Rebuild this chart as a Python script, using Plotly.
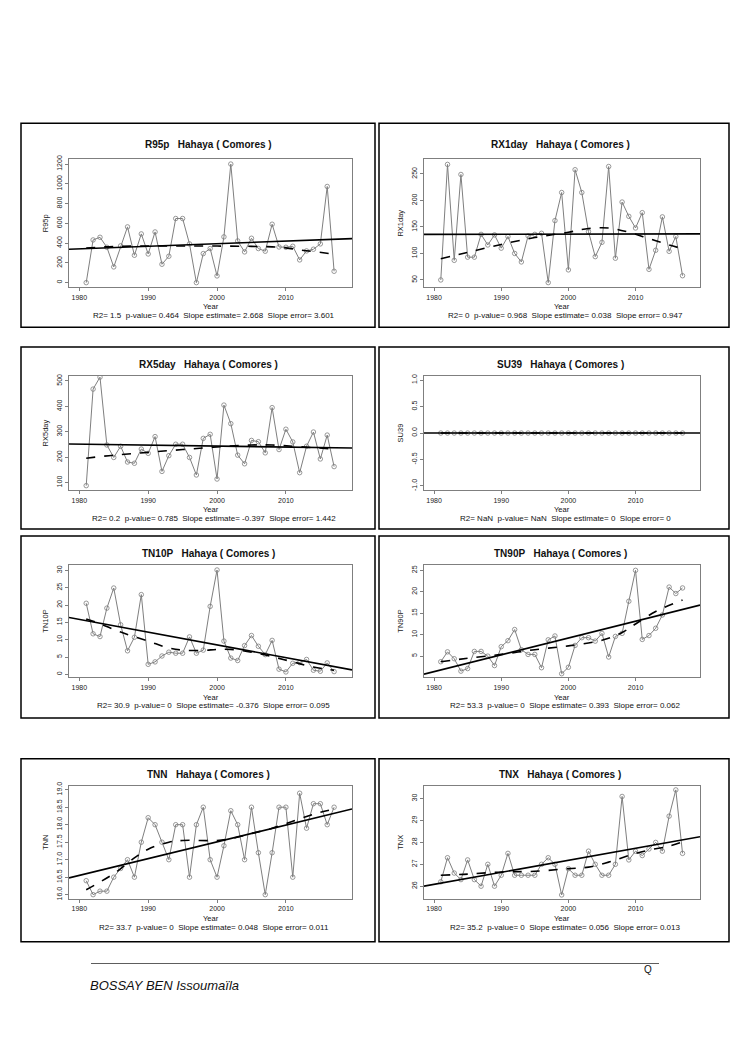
import plotly.graph_objects as go

W, H = 745, 1053

years = list(range(1981, 2018))
edge_years = [1978.5, 2019.6]

# ---- data ----
r95p = [0, 432, 459, 358, 159, 372, 564, 277, 493, 290, 513, 186, 267, 649, 649, 392, 0, 294, 345, 68,
        463, 1200, 422, 311, 449, 345, 318, 591, 361, 358, 368, 230, 321, 338, 392, 973, 115]
r95p_trend = [338, 445]
r95p_loess_x = [1981, 1985, 1990, 1995, 2000, 2005, 2008, 2010, 2012, 2014, 2017]
r95p_loess_y = [350, 366, 370, 370, 370, 367, 362, 352, 331, 315, 288]

rx1day = [50, 268, 87, 249, 93, 93, 136, 116, 135, 110, 132, 100, 84, 133, 136, 138, 45, 162, 215, 69,
          258, 215, 141, 94, 121, 264, 91, 197, 170, 148, 177, 70, 106, 169, 104, 132, 58]
rx1day_trend = [136, 137]
rx1day_loess_x = [1981, 1985, 1990, 1995, 2000, 2003, 2006, 2009, 2012, 2015, 2017]
rx1day_loess_y = [90, 102, 117, 130, 140, 147, 148, 140, 128, 116, 109]

rx5day = [88, 468, 515, 248, 199, 243, 181, 176, 232, 215, 281, 144, 206, 251, 251, 199, 130, 274, 290, 114,
          405, 332, 208, 174, 266, 261, 217, 395, 230, 310, 260, 139, 243, 299, 193, 287, 163]
rx5day_trend = [252, 236]
rx5day_loess_x = [1981, 1985, 1990, 1995, 2000, 2005, 2008, 2012, 2017]
rx5day_loess_y = [196, 208, 219, 230, 240, 248, 248, 241, 232]

su39 = [0] * 37
su39_trend = [0, 0]
su39_loess_x = [1981, 2017]
su39_loess_y = [0, 0]

tn10p = [20.5, 11.7, 10.9, 19.1, 24.9, 14.3, 6.8, 10.7, 23.0, 2.9, 3.6, 5.3, 6.4, 6.1, 6.1, 10.8, 6.1, 7.0,
         19.6, 30.1, 9.6, 4.7, 4.0, 8.3, 11.2, 8.1, 5.7, 9.8, 1.5, 0.7, 3.2, 3.4, 4.3, 1.2, 0.9, 3.3, 0.8]
tn10p_trend = [16.4, 1.3]
tn10p_loess_x = [1981, 1983, 1986, 1990, 1993, 1995, 1998, 2000, 2002, 2005, 2008, 2011, 2014, 2017]
tn10p_loess_y = [16.0, 14.6, 12.2, 9.6, 7.6, 7.0, 6.9, 7.2, 7.2, 6.4, 5.1, 3.6, 2.1, 1.2]

tn90p = [3.7, 6.0, 4.4, 1.5, 2.1, 6.1, 6.1, 5.0, 2.8, 7.2, 8.6, 11.2, 6.5, 5.4, 5.4, 2.3, 8.8, 9.7, 0.9,
         2.4, 7.5, 9.3, 9.3, 8.5, 10.3, 4.8, 9.6, 10.3, 17.8, 25.0, 8.9, 9.8, 11.5, 14.6, 21.1, 19.6, 20.9]
tn90p_trend = [0.8, 16.9]
tn90p_loess_x = [1981, 1985, 1990, 1995, 2000, 2005, 2008, 2010, 2013, 2017]
tn90p_loess_y = [3.7, 4.5, 5.4, 6.5, 7.4, 8.7, 10.5, 12.5, 15.4, 18.1]

tnn = [16.4, 16.0, 16.1, 16.1, 16.5, 16.75, 17.0, 16.5, 17.5, 18.2, 18.0, 17.5, 17.0, 18.0, 18.0, 16.5,
       18.0, 18.5, 17.0, 16.5, 17.4, 18.4, 18.0, 17.0, 18.5, 17.2, 16.0, 17.2, 18.5, 18.5, 16.5, 18.9,
       17.9, 18.6, 18.6, 18.0, 18.5]
tnn_trend = [16.48, 18.45]
tnn_loess_x = [1981, 1985, 1988, 1990, 1993, 1995, 2000, 2002, 2005, 2008, 2011, 2014, 2017]
tnn_loess_y = [16.14, 16.6, 17.05, 17.3, 17.5, 17.55, 17.55, 17.6, 17.75, 17.9, 18.1, 18.3, 18.45]

tnx = [26.2, 27.3, 26.6, 26.3, 27.2, 26.3, 26.0, 27.0, 26.0, 26.5, 27.5, 26.5, 26.5, 26.5, 26.5, 27.0,
       27.3, 27.0, 25.6, 26.8, 26.5, 26.5, 27.6, 27.0, 26.5, 26.5, 27.0, 30.1, 27.2, 27.6, 27.4, 27.7,
       28.0, 27.6, 29.2, 30.4, 27.5]
tnx_trend = [26.0, 28.26]
tnx_loess_x = [1981, 1985, 1990, 1995, 2000, 2003, 2006, 2009, 2012, 2015, 2017]
tnx_loess_y = [26.5, 26.55, 26.65, 26.68, 26.8, 26.87, 27.1, 27.4, 27.65, 27.83, 28.03]

panels = [
    dict(name="R95p", y=r95p, trend=r95p_trend, lx=r95p_loess_x, ly=r95p_loess_y,
         yr=[-48, 1250], ticks=[0, 200, 400, 600, 800, 1000, 1200], fmt="{:.0f}",
         stats="R2= 1.5  p-value= 0.464  Slope estimate= 2.668  Slope error= 3.601"),
    dict(name="RX1day", y=rx1day, trend=rx1day_trend, lx=rx1day_loess_x, ly=rx1day_loess_y,
         yr=[36, 278], ticks=[50, 100, 150, 200, 250], fmt="{:.0f}",
         stats="R2= 0  p-value= 0.968  Slope estimate= 0.038  Slope error= 0.947"),
    dict(name="RX5day", y=rx5day, trend=rx5day_trend, lx=rx5day_loess_x, ly=rx5day_loess_y,
         yr=[70, 520], ticks=[100, 200, 300, 400, 500], fmt="{:.0f}",
         stats="R2= 0.2  p-value= 0.785  Slope estimate= -0.397  Slope error= 1.442"),
    dict(name="SU39", y=su39, trend=su39_trend, lx=su39_loess_x, ly=su39_loess_y,
         yr=[-1.08, 1.08], ticks=[-1, -0.5, 0, 0.5, 1], fmt="{:.1f}",
         stats="R2= NaN  p-value= NaN  Slope estimate= 0  Slope error= 0"),
    dict(name="TN10P", y=tn10p, trend=tn10p_trend, lx=tn10p_loess_x, ly=tn10p_loess_y,
         yr=[-0.8, 31.6], ticks=[0, 5, 10, 15, 20, 25, 30], fmt="{:.0f}",
         stats="R2= 30.9  p-value= 0  Slope estimate= -0.376  Slope error= 0.095"),
    dict(name="TN90P", y=tn90p, trend=tn90p_trend, lx=tn90p_loess_x, ly=tn90p_loess_y,
         yr=[0.1, 26.3], ticks=[5, 10, 15, 20, 25], fmt="{:.0f}",
         stats="R2= 53.3  p-value= 0  Slope estimate= 0.393  Slope error= 0.062"),
    dict(name="TNN", y=tnn, trend=tnn_trend, lx=tnn_loess_x, ly=tnn_loess_y,
         yr=[15.88, 19.12], ticks=[16, 16.5, 17, 17.5, 18, 18.5, 19], fmt="{:.1f}",
         stats="R2= 33.7  p-value= 0  Slope estimate= 0.048  Slope error= 0.011"),
    dict(name="TNX", y=tnx, trend=tnx_trend, lx=tnx_loess_x, ly=tnx_loess_y,
         yr=[25.42, 30.6], ticks=[26, 27, 28, 29, 30], fmt="{:.0f}",
         stats="R2= 35.2  p-value= 0  Slope estimate= 0.056  Slope error= 0.013"),
]

# page geometry in pixels (left, right) and (top, bottom)
col_box = [(21, 375), (379, 729)]
col_plot = [(69, 352), (424, 700)]
row_box = [(120, 325), (345, 528), (535, 718), (759, 943)]
row_plot = [(156, 285), (374, 489), (564, 677), (786, 900)]
row_title = [141, 363, 553, 775]
row_year = [304, 508, 697, 920]

FONT = "Liberation Sans, Arial, sans-serif"
GREY = "#7f7f7f"


def px(x):
    return x / W


def py(y):
    return 1 - y / H


fig = go.Figure()
shapes = []
annotations = []


def note(text, x, y, size, xanchor="center"):
    annotations.append(dict(text=text, x=px(x), y=py(y), xref="paper", yref="paper",
                            xanchor=xanchor, yanchor="middle", showarrow=False,
                            font=dict(family=FONT, size=size, color="#111")))


for i, p in enumerate(panels):
    r, c = divmod(i, 2)
    n = "" if i == 0 else str(i + 1)
    xa, ya = "x" + n, "y" + n

    fig.add_trace(go.Scatter(x=years, y=p["y"], mode="lines+markers", xaxis=xa, yaxis=ya,
                             line=dict(color=GREY, width=1),
                             marker=dict(symbol="circle-open", size=4.5, color=GREY,
                                         line=dict(width=0.8)),
                             showlegend=False, hoverinfo="skip"))
    fig.add_trace(go.Scatter(x=p["lx"], y=p["ly"], mode="lines", xaxis=xa, yaxis=ya,
                             line=dict(color="black", width=1.6, dash="dash", shape="spline"),
                             showlegend=False, hoverinfo="skip"))
    fig.add_trace(go.Scatter(x=edge_years, y=p["trend"], mode="lines", xaxis=xa, yaxis=ya,
                             line=dict(color="black", width=1.6),
                             showlegend=False, hoverinfo="skip"))

    ax = dict(domain=[px(col_plot[c][0]), px(col_plot[c][1])], range=edge_years,
              tickvals=[1980, 1990, 2000, 2010], ticks="outside", ticklen=3, tickwidth=0.8,
              tickcolor=GREY, showline=True, mirror=True, linecolor=GREY, linewidth=1,
              showgrid=False, zeroline=False, anchor=ya,
              tickfont=dict(family=FONT, size=7, color="#222"))
    ay = dict(domain=[py(row_plot[r][1]), py(row_plot[r][0])], range=p["yr"],
              tickvals=p["ticks"], ticktext=[p["fmt"].format(v) for v in p["ticks"]],
              tickangle=-90, ticks="outside", ticklen=3, tickwidth=0.8, tickcolor=GREY,
              showline=True, mirror=True, linecolor=GREY, linewidth=1, showgrid=False,
              zeroline=False, anchor=xa,
              tickfont=dict(family=FONT, size=7, color="#222"),
              title=dict(text=p["name"], standoff=6, font=dict(family=FONT, size=7.5, color="#222")))
    fig.layout["xaxis" + n] = ax
    fig.layout["yaxis" + n] = ay

    mid = (col_plot[c][0] + col_plot[c][1]) / 2
    note("<b>" + p["name"] + "\u00a0\u00a0\u00a0Hahaya ( Comores )</b>", mid - 2, row_title[r], 10)
    note("Year", mid, row_year[r], 7.5)
    note(p["stats"].replace("  ", "\u00a0\u00a0"), mid + 3, row_year[r] + 9, 8)

    shapes.append(dict(type="rect", xref="paper", yref="paper",
                       x0=px(col_box[c][0]), x1=px(col_box[c][1]),
                       y0=py(row_box[r][1]), y1=py(row_box[r][0]),
                       line=dict(color="black", width=1.5)))

# footer
shapes.append(dict(type="line", xref="paper", yref="paper", x0=px(91), x1=px(659),
                   y0=py(965), y1=py(965), line=dict(color="#333", width=0.8)))
note("Q", 648, 971, 10)
note("<i>BOSSAY BEN Issoumaïla</i>", 88, 987, 13, xanchor="left")

fig.update_layout(width=W, height=H, margin=dict(l=0, r=0, t=0, b=0),
                  paper_bgcolor="white", plot_bgcolor="white",
                  shapes=shapes, annotations=annotations)

fig.write_html("out.html", config={"displayModeBar": False},
               post_script="document.body.style.margin='0';document.body.style.overflow='hidden';")
